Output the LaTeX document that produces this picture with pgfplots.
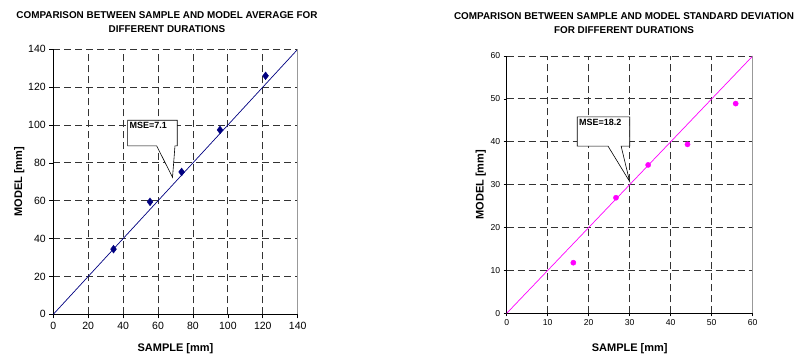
\documentclass[border=0pt]{standalone}
\usepackage{pgfplots}
\pgfplotsset{compat=1.18}
\usepackage{fontspec}
\setmainfont{Liberation Sans}
\definecolor{navyc}{HTML}{000080}
\definecolor{magc}{HTML}{FF00FF}
\pgfplotsset{
  common/.style={
    scale only axis,
    axis x line*=bottom, axis y line*=left,
    axis line style={-, black, line width=0.8pt},
    grid=major,
    major grid style={dash pattern=on 7pt off 4pt, black!80, line width=0.8pt},
    tick align=outside, major tick length=4pt,
    tick style={black, line width=0.6pt},
    /pgf/number format/assume math mode=true,
    title style={align=center, font=\bfseries\fontsize{9.9}{14}\selectfont, anchor=south},
    xlabel style={at={(axis description cs:0.5,0)}, anchor=center, font=\bfseries\fontsize{11}{12}\selectfont},
    ylabel style={at={(axis description cs:0,0.5)}, anchor=center, font=\bfseries\fontsize{11}{12}\selectfont},
    clip=false,
  }
}
\begin{document}
\begin{tikzpicture}
\useasboundingbox (0pt,0pt) rectangle (799pt,356pt);
% ---------- left ----------
\begin{axis}[common,
  at={(53.3pt,41.7pt)}, anchor=south west,
  width=244.4pt, height=265pt,
  xmin=0, xmax=140, ymin=0, ymax=140,
  xtick={0,20,...,140}, ytick={0,20,...,140},
  ticklabel style={font=\fontsize{10.5}{12}\selectfont},
  title={COMPARISON BETWEEN SAMPLE AND MODEL AVERAGE FOR\\DIFFERENT DURATIONS},
  title style={at={(0.465,1)}, yshift=7pt},
  xlabel={SAMPLE [mm]}, xlabel style={yshift=-34pt},
  ylabel={MODEL [mm]}, ylabel style={yshift=34pt},
]
\addplot[navyc, line width=0.7pt] coordinates {(0,0) (140,140)};
\addplot[only marks, mark=diamond*, mark size=3.9pt, navyc] coordinates {
(34.5,34.4) (55.4,59.4) (73.5,75.2) (95.5,97.4) (121.6,126.0)};
\draw[black!40, line width=0.8pt] (rel axis cs:1,0) -- (rel axis cs:1,1);
\draw[fill=white, line width=0.6pt] (axis cs:42.6,102.5) -- (axis cs:71,102.5) -- (axis cs:71,89) -- (axis cs:69.7,89) -- (axis cs:68.3,72.4) -- (axis cs:59.2,89) -- (axis cs:42.6,89) -- cycle;
\node[anchor=north west, inner sep=0pt, font=\bfseries\fontsize{9}{10}\selectfont] at (axis cs:43.6,101.5) {MSE=7.1};
\end{axis}
% ---------- right ----------
\begin{axis}[common,
  at={(506.7pt,42.7pt)}, anchor=south west,
  width=246pt, height=257.3pt,
  xmin=0, xmax=60, ymin=0, ymax=60,
  xtick={0,10,...,60}, ytick={0,10,...,60},
  ticklabel style={font=\fontsize{8.6}{10}\selectfont},
  major tick length=3pt,
  title={COMPARISON BETWEEN SAMPLE AND MODEL STANDARD DEVIATION\\FOR DIFFERENT DURATIONS},
  title style={at={(0.477,1)}, yshift=13pt},
  xlabel={SAMPLE [mm]}, xlabel style={yshift=-35pt},
  ylabel={MODEL [mm]}, ylabel style={yshift=26pt},
]
\addplot[magc, line width=0.7pt] coordinates {(0,0) (60,60)};
\addplot[only marks, mark=*, mark size=2.6pt, magc] coordinates {
(16.25,11.8) (26.65,26.95) (34.5,34.6) (44.1,39.4) (55.85,48.9)};
\draw[black!40, line width=0.8pt] (rel axis cs:1,0) -- (rel axis cs:1,1);
\draw[fill=white, line width=0.6pt] (axis cs:17.2,45.8) -- (axis cs:30,45.8) -- (axis cs:30,39.0) -- (axis cs:27.9,39.0) -- (axis cs:30,30.7) -- (axis cs:24.7,39.0) -- (axis cs:17.2,39.0) -- cycle;
\node[anchor=north west, inner sep=0pt, font=\bfseries\fontsize{9}{10}\selectfont] at (axis cs:17.6,45.3) {MSE=18.2};
\end{axis}
\end{tikzpicture}
\end{document}
